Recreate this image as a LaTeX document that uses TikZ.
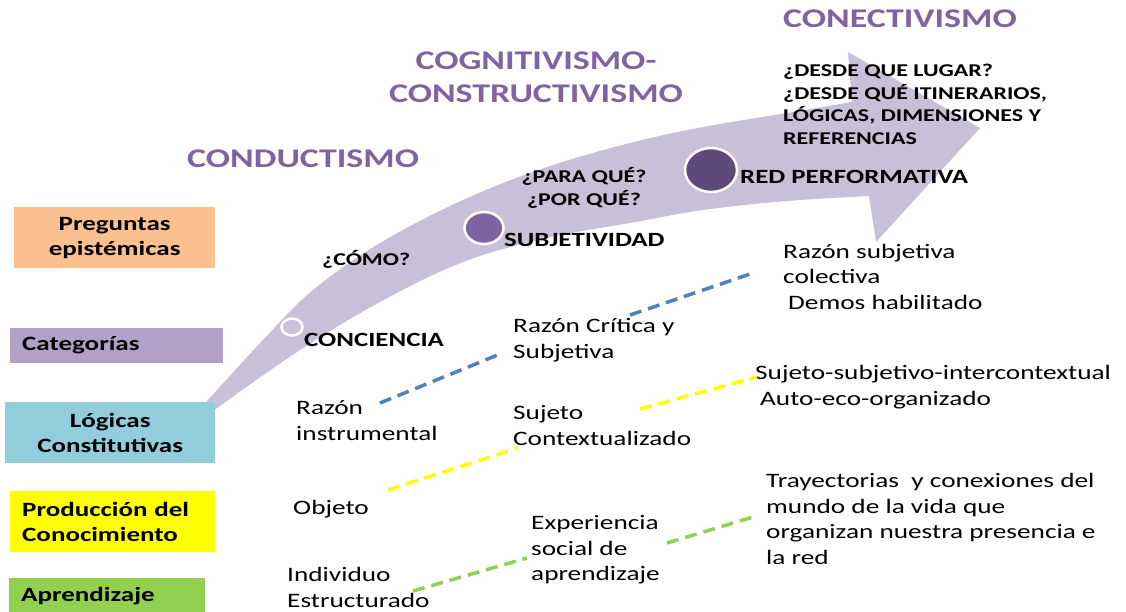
\documentclass[tikz,border=0pt]{standalone}
\usepackage{fontspec}
\setmainfont{Carlito}[FakeStretch=1.33]
\usetikzlibrary{shapes.geometric}
\definecolor{arrowfill}{RGB}{200,191,216}
\definecolor{dotlight}{RGB}{204,193,218}
\definecolor{dotmid}{RGB}{128,100,162}
\definecolor{dotdark}{RGB}{95,73,122}
\definecolor{headpurple}{RGB}{128,100,162}
\definecolor{boxorange}{RGB}{250,192,144}
\definecolor{boxpurple}{RGB}{178,161,199}
\definecolor{boxblue}{RGB}{146,205,220}
\definecolor{boxyellow}{RGB}{255,255,0}
\definecolor{boxgreen}{RGB}{146,208,80}
\definecolor{dashblue}{RGB}{79,129,189}
\definecolor{dashyellow}{RGB}{255,255,0}
\definecolor{dashgreen}{RGB}{146,208,80}
\begin{document}
\begin{tikzpicture}[x=1pt,y=-1pt,
  body/.style={anchor=base west,inner sep=0pt,align=left,font=\fontsize{20.5}{25.6}\selectfont},
  lbl/.style={anchor=base west,inner sep=0pt,font=\bfseries\fontsize{20.2}{24}\selectfont},
  qst/.style={inner sep=0pt,font=\bfseries\fontsize{18}{22.4}\selectfont},
  era/.style={inner sep=0pt,text=headpurple,font=\bfseries\fontsize{27}{33.5}\selectfont},
  leftbox/.style={rectangle,inner xsep=12pt,inner ysep=0pt,anchor=north west,font=\bfseries\fontsize{20.3}{25}\selectfont},
  stagedot/.style={ellipse,draw=white,line width=2.5pt,inner sep=0pt},
  link/.style={line width=3.5pt,dash pattern=on 12pt off 7pt}
]
\useasboundingbox (0,0) rectangle (1126,611);

% curved arrow
\fill[arrowfill] plot[smooth,tension=0.6] coordinates {(198,411) (263,340) (313,290) (380,243) (463,200) (547,167) (630,143) (703,127) (787,113) (852,102)}
  -- (848,52) -- (980,128) -- (876,242)
  -- plot[smooth,tension=0.6] coordinates {(869,196) (787,201) (703,210) (630,223) (547,238) (463,262) (380,302) (297,352) (213,411)} -- cycle;

% stage dots
\node[stagedot,fill=dotlight,minimum width=21pt,minimum height=17pt] (d1) at (292,327) {};
\node[stagedot,fill=dotmid,minimum width=39pt,minimum height=32pt] (d2) at (484,228) {};
\node[stagedot,fill=dotdark,minimum width=52pt,minimum height=44pt] (d3) at (711,170) {};

% left boxes
\node[leftbox,fill=boxorange,text width=177pt,minimum height=61pt,align=center] (preg) at (14,207) {Preguntas\\epistémicas};
\node[leftbox,fill=boxpurple,text width=189pt,minimum height=35pt,align=left] (cat) at (10,328) {Categorías};
\node[leftbox,fill=boxblue,text width=186pt,minimum height=61pt,align=center] (log) at (5,402) {Lógicas\\Constitutivas};
\node[leftbox,fill=boxyellow,text width=181pt,minimum height=61pt,align=left] (prod) at (10,491) {Producción del\\Conocimiento};
\node[leftbox,fill=boxgreen,text width=172pt,minimum height=36pt,align=left] (apr) at (9,578) {Aprendizaje};

% eras
\node[era,anchor=base west] (cond) at (187,167) {CONDUCTISMO};
\node[era,anchor=base,align=center] (cogn) at (536,102.5) {COGNITIVISMO-\\CONSTRUCTIVISMO};
\node[era,anchor=base west] (conec) at (783,27.5) {CONECTIVISMO};

% questions
\node[qst,anchor=base west] (como) at (322,265) {¿CÓMO?};
\node[qst,anchor=base,align=center] (para) at (584,205) {¿PARA QUÉ?\\¿POR QUÉ?};
\node[qst,anchor=base west,align=left] (desde) at (783,144) {¿DESDE QUE LUGAR?\\¿DESDE QUÉ ITINERARIOS,\\LÓGICAS, DIMENSIONES Y\\REFERENCIAS};

% categories
\node[lbl] (conc) at (304,346) {CONCIENCIA};
\node[lbl] (subj) at (504,246.7) {SUBJETIVIDAD};
\node[lbl] (red) at (740,183) {RED PERFORMATIVA};

% body texts (anchored at the baseline of the last line)
\node[body] (rinst) at (296,440) {Razón\\instrumental};
\node[body] (obj) at (293,514) {Objeto};
\node[body] (indiv) at (287,607) {Individuo\\Estructurado};
\node[body] (rcrit) at (513,358) {Razón Crítica y\\Subjetiva};
\node[body] (sujc) at (513,445.3) {Sujeto\\Contextualizado};
\node[body] (expe) at (531,580.7) {Experiencia\\social de\\aprendizaje};
\node[body] (rsubj) at (783,309.3) {Razón subjetiva\\colectiva\\\hspace*{5pt}Demos habilitado};
\node[body] (sujsub) at (755,405) {Sujeto-subjetivo-intercontextual\\\hspace*{5pt}Auto-eco-organizado};
\node[body] (tray) at (766,564.3) {Trayectorias\ \ y conexiones del\\mundo de la vida que\\organizan nuestra presencia e\\la red};

% dashed connectors
\coordinate (b1s) at (380,403); \coordinate (b1e) at (500,354);
\coordinate (b2s) at (630,315); \coordinate (b2e) at (753,273);
\coordinate (y1s) at (388,490); \coordinate (y1e) at (518,448);
\coordinate (y2s) at (640,409); \coordinate (y2e) at (757,377);
\coordinate (g1s) at (413,591); \coordinate (g1e) at (527,558);
\coordinate (g2s) at (667,543); \coordinate (g2e) at (753,517);
\draw[link,dashblue] (b1s) -- (b1e);
\draw[link,dashblue] (b2s) -- (b2e);
\draw[link,dashyellow] (y1s) -- (y1e);
\draw[link,dashyellow] (y2s) -- (y2e);
\draw[link,dashgreen] (g1s) -- (g1e);
\draw[link,dashgreen] (g2s) -- (g2e);
\end{tikzpicture}
\end{document}
